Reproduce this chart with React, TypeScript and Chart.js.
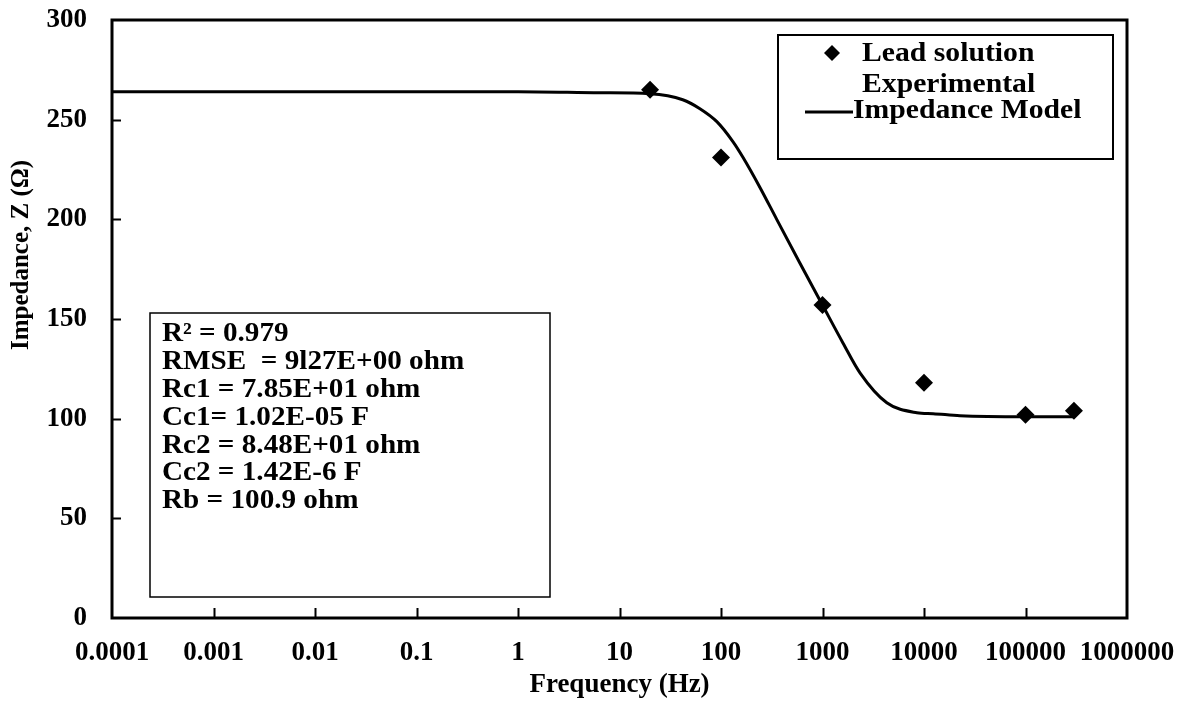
import React, { useEffect, useRef } from 'react';
import { Chart, registerables } from 'chart.js';

Chart.register(...registerables);

// ---- data ----
const EXP_FREQ = [20, 100, 1000, 10000, 100000, 300000];
const EXP_Z = [265, 231, 157, 118, 102, 104];

const MODEL_FREQ = [0.0001, 1, 6.4, 20, 42, 62, 91, 131, 165, 242, 354, 600, 1000, 1590, 2340, 4300, 8500, 12300, 22600, 100000, 300000];
const MODEL_Z = [264, 264, 263.5, 263, 260, 255.5, 249, 239, 231, 216, 200, 178, 157, 138, 123, 108, 103, 102.5, 101.5, 101, 101];

const X_TICKS = [0.0001, 0.001, 0.01, 0.1, 1, 10, 100, 1000, 10000, 100000, 1000000];
const Y_TICKS = [0, 50, 100, 150, 200, 250, 300];

const LEGEND_EXP = ['Lead solution', 'Experimental'];
const LEGEND_MODEL = 'Impedance Model';
const FIT_LINES = [
  'R\u00B2 = 0.979',
  'RMSE  = 9l27E+00 ohm',
  'Rc1 = 7.85E+01 ohm',
  'Cc1= 1.02E-05 F',
  'Rc2 = 8.48E+01 ohm',
  'Cc2 = 1.42E-6 F',
  'Rb = 100.9 ohm',
];
const X_TITLE = 'Frequency (Hz)';
const Y_TITLE = 'Impedance, Z (\u03A9)';

const FONT = "'Liberation Serif', 'Times New Roman', serif";

function wideText(ctx: CanvasRenderingContext2D, t: string, x: number, y: number, sx: number) {
  ctx.save();
  ctx.translate(x, y);
  ctx.scale(sx, 1);
  ctx.fillText(t, 0, 0);
  ctx.restore();
}

const decorPlugin = {
  id: 'decor',
  afterDatasetsDraw(chart: any) {
    const ctx = chart.ctx as CanvasRenderingContext2D;
    const { left, right, top, bottom } = chart.chartArea;
    const xs = chart.scales.x;
    const ys = chart.scales.y;
    ctx.save();
    ctx.strokeStyle = '#000';
    ctx.fillStyle = '#000';

    // inward tick marks
    ctx.lineWidth = 2;
    ctx.beginPath();
    X_TICKS.slice(1, -1).forEach((v) => {
      const px = Math.round(xs.getPixelForValue(v)) + 0.5;
      ctx.moveTo(px, bottom);
      ctx.lineTo(px, bottom - 10);
    });
    Y_TICKS.slice(1, -1).forEach((v) => {
      const py = Math.round(ys.getPixelForValue(v)) + 0.5;
      ctx.moveTo(left, py);
      ctx.lineTo(left + 9, py);
    });
    ctx.stroke();

    // plot frame
    ctx.lineWidth = 3;
    ctx.strokeRect(left, top, right - left, bottom - top);

    // legend box
    const lx = 770, ly = 27, lw = 335, lh = 124;
    ctx.fillStyle = '#fff';
    ctx.fillRect(lx, ly, lw, lh);
    ctx.lineWidth = 2;
    ctx.strokeRect(lx, ly, lw, lh);
    ctx.fillStyle = '#000';
    // diamond marker
    const dx = 824, dy = 45, dr = 8;
    ctx.beginPath();
    ctx.moveTo(dx, dy - dr);
    ctx.lineTo(dx + dr, dy);
    ctx.lineTo(dx, dy + dr);
    ctx.lineTo(dx - dr, dy);
    ctx.closePath();
    ctx.fill();
    ctx.font = `bold 27px ${FONT}`;
    ctx.textAlign = 'left';
    ctx.textBaseline = 'middle';
    wideText(ctx, LEGEND_EXP[0], 854, 46, 1.1);
    wideText(ctx, LEGEND_EXP[1], 854, 77, 1.1);
    ctx.lineWidth = 3;
    ctx.beginPath();
    ctx.moveTo(797, 104);
    ctx.lineTo(845, 104);
    ctx.stroke();
    wideText(ctx, LEGEND_MODEL, 845, 103, 1.1);

    // fit parameters box
    const bx = 142, by = 305, bw = 400, bh = 284;
    ctx.fillStyle = '#fff';
    ctx.fillRect(bx, by, bw, bh);
    ctx.lineWidth = 1.5;
    ctx.strokeRect(bx, by, bw, bh);
    ctx.fillStyle = '#000';
    FIT_LINES.forEach((t, i) => {
      wideText(ctx, t, 154, 326 + i * 27.9, 1.08);
    });

    // axis titles
    ctx.textAlign = 'center';
    ctx.font = `bold 27px ${FONT}`;
    ctx.fillText(X_TITLE, (left + right) / 2, 677);
    ctx.save();
    ctx.translate(14, 247);
    ctx.rotate(-Math.PI / 2);
    ctx.font = `bold 25px ${FONT}`;
    ctx.fillText(Y_TITLE, 0, 0);
    ctx.restore();

    ctx.restore();
  },
};

export default function App() {
  const canvasRef = useRef<HTMLCanvasElement | null>(null);

  useEffect(() => {
    if (!canvasRef.current) return;
    const chart = new Chart(canvasRef.current, {
      type: 'scatter',
      data: {
        datasets: [
          {
            label: 'Lead solution Experimental',
            data: EXP_FREQ.map((f, i) => ({ x: f, y: EXP_Z[i] })),
            pointStyle: 'rectRot',
            pointRadius: 9,
            pointBackgroundColor: '#000',
            pointBorderWidth: 0,
            backgroundColor: '#000',
            borderColor: '#000',
            showLine: false,
            order: 0,
          },
          {
            label: LEGEND_MODEL,
            data: MODEL_FREQ.map((f, i) => ({ x: f, y: MODEL_Z[i] })),
            showLine: true,
            pointRadius: 0,
            borderWidth: 3,
            borderColor: '#000',
            backgroundColor: '#000',
            cubicInterpolationMode: 'monotone',
            fill: false,
            order: 1,
          },
        ],
      } as any,
      options: {
        animation: false,
        responsive: true,
        maintainAspectRatio: false,
        layout: { padding: { top: 12, right: 49, left: 0, bottom: 0 } },
        plugins: {
          legend: { display: false },
          tooltip: { enabled: false },
          title: { display: false },
        },
        scales: {
          x: {
            type: 'logarithmic',
            min: 0.0001,
            max: 1000000,
            grid: { display: false, drawTicks: false },
            border: { display: false },
            afterBuildTicks: (scale: any) => {
              scale.ticks = X_TICKS.map((v) => ({ value: v }));
            },
            afterFit: (scale: any) => {
              scale.height = 82;
              scale.paddingLeft = 0;
              scale.paddingRight = 0;
            },
            ticks: {
              autoSkip: false,
              maxRotation: 0,
              minRotation: 0,
              padding: 19,
              color: '#000',
              font: { family: FONT, size: 27, weight: 'bold' },
              callback: (v: any) => String(v),
            },
          },
          y: {
            type: 'linear',
            min: 0,
            max: 300,
            grid: { display: false, drawTicks: false },
            border: { display: false },
            afterBuildTicks: (scale: any) => {
              scale.ticks = Y_TICKS.map((v) => ({ value: v }));
            },
            afterFit: (scale: any) => {
              scale.width = 104;
              scale.paddingTop = 0;
              scale.paddingBottom = 0;
            },
            ticks: {
              padding: 25,
              color: '#000',
              font: { family: FONT, size: 27, weight: 'bold' },
              callback: (v: any) => String(v),
            },
          },
        },
      } as any,
      plugins: [decorPlugin],
    });
    return () => chart.destroy();
  }, []);

  return (
    <div style={{ width: 1168, height: 692, position: 'relative', background: '#fff' }}>
      <canvas ref={canvasRef} />
    </div>
  );
}
